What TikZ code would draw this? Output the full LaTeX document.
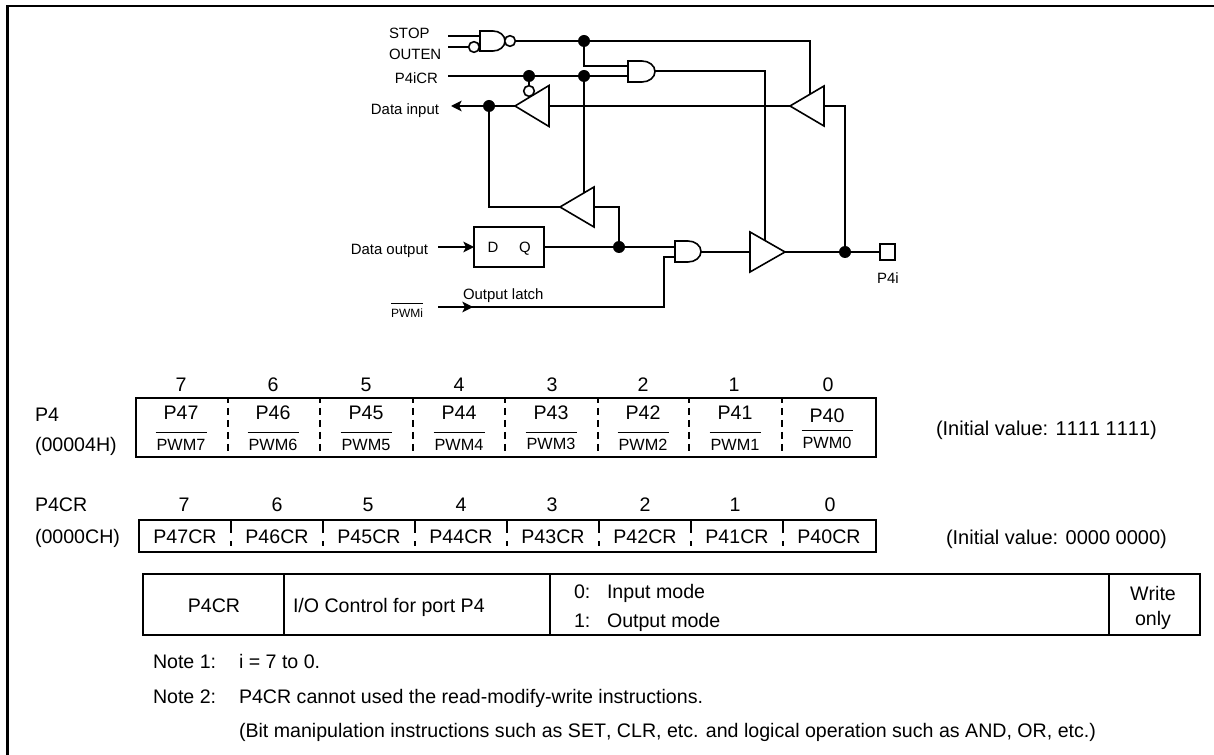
\documentclass[tikz,border=0pt]{standalone}
\usepackage{fontspec}
\setmainfont[Kerning=Off]{Liberation Sans}
\usetikzlibrary{arrows.meta}
\tikzset{
  txt/.style={inner sep=0pt,outer sep=0pt,font=\fontsize{14.7}{17}\selectfont,text height=10.5pt,text depth=0pt},
  txtb/.style={inner sep=0pt,outer sep=0pt,font=\fontsize{15}{17}\selectfont,text height=10.7pt,text depth=0pt},
  small/.style={inner sep=0pt,outer sep=0pt,font=\fontsize{11.2}{13}\selectfont,text height=8pt,text depth=0pt},
  pwm/.style={inner sep=0pt,outer sep=0pt,font=\fontsize{12.2}{14}\selectfont,text height=8.7pt,text depth=0pt},
  pwmi/.style={inner sep=0pt,outer sep=0pt,font=\fontsize{9}{11}\selectfont,text height=6.4pt,text depth=0pt},
  wire/.style={line width=1.2pt,line join=miter},
  heavy/.style={line width=1.5pt},
  gatebody/.style={line width=1.2pt,fill=white},
  dot/.style={circle,fill=black,inner sep=0pt,minimum size=9pt},
  bubble/.style={circle,draw,line width=1.2pt,fill=white,inner sep=0pt,minimum size=8pt},
  tipped/.style={-{Stealth[length=8pt,width=8pt,inset=2pt]}},
  dashA/.style={line width=1.5pt,dash pattern=on 5.25pt off 3.75pt,dash phase=2.25pt},
  dashB/.style={line width=1.5pt,dash pattern=on 10pt off 6pt},
}
% and-gate body: left x, top y, bottom y, flat length, bulge
\newcommand{\gatepath}[5]{%
  \draw[gatebody] (#1,#2) -- ({#1+#4},#2)
    .. controls ({#1+#4+.55*#5},#2) and ({#1+#4+#5},{#2+.22*(#3-#2)}) .. ({#1+#4+#5},{(#2+#3)/2})
    .. controls ({#1+#4+#5},{#3-.22*(#3-#2)}) and ({#1+#4+.55*#5},#3) .. ({#1+#4},#3) -- (#1,#3) -- cycle;}
% triangle: apex x, apex y, base x, half height
\newcommand{\trianglepath}[4]{%
  \draw[gatebody,line join=miter] (#1,#2) -- (#3,{#2-#4}) -- (#3,{#2+#4}) -- cycle;}
\begin{document}
\begin{tikzpicture}[x=0.75pt,y=-0.75pt]
\useasboundingbox (0,0) rectangle (1214,755);
\clip (0,0) rectangle (1214,755);
% frame
\coordinate (fa) at (7.5,755);
\coordinate (fb) at (7.5,6);
\coordinate (fc) at (1214,6);
\draw[heavy,line width=1.6pt] (fa) -- (fb) -- (fc);

% circuit coordinates
\coordinate (stopL) at (448,36);
\coordinate (stopG) at (480,36);
\coordinate (outenL) at (448,47);
\coordinate (outenG) at (469,47);
\coordinate (nandO) at (515,41);
\coordinate (j1) at (584,41);
\coordinate (corner1) at (810,41);
\coordinate (tri4en) at (810,94);
\coordinate (k1) at (584,66);
\coordinate (and2a) at (628,66);
\coordinate (crL) at (448,76);
\coordinate (j2) at (529,76);
\coordinate (j3) at (584,76);
\coordinate (and2b) at (628,76);
\coordinate (and2o) at (655,71);
\coordinate (k2) at (765,71);
\coordinate (tri3en) at (765,240.5);
\coordinate (tri2en) at (584,194.5);
\coordinate (tri1a) at (515,106);
\coordinate (j4) at (489,106);
\coordinate (dinT) at (451,106);
\coordinate (tri1b) at (549,106);
\coordinate (tri4a) at (790,106);
\coordinate (tri4b) at (824,106);
\coordinate (k3) at (845,106);
\coordinate (k4) at (489,207);
\coordinate (tri2a) at (560,207);
\coordinate (tri2b) at (594,207);
\coordinate (k5) at (619,207);
\coordinate (j5) at (619,247);
\coordinate (and3a) at (675,247);
\coordinate (and3b) at (675,257);
\coordinate (k6) at (664,257);
\coordinate (k7) at (664,307);
\coordinate (and3o) at (701,252);
\coordinate (tri3b) at (750,252);
\coordinate (tri3a) at (785,252);
\coordinate (j6) at (845,252);
\coordinate (doL) at (438,247);
\coordinate (pwL) at (438,307);
\coordinate (pwT) at (473,307);

% wires
\draw[wire] (stopL) -- (stopG);
\draw[wire] (outenL) -- (outenG);
\draw[wire] (nandO) -- (corner1) -- (tri4en);
\draw[wire] (j1) -- (k1) -- (and2a);
\draw[wire] (crL) -- (and2b);
\draw[wire] (j3) -- (tri2en);
\draw[wire] (and2o) -- (k2) -- (tri3en);
\draw[wire] (tri1b) -- (tri4a);
\draw[wire] (tri4b) -- (k3) -- (j6);
\draw[wire] (j4) -- (k4) -- (tri2a);
\draw[wire] (tri2b) -- (k5) -- (j5);
\draw[wire] (and3o) -- (tri3b);
\draw[wire] (and3b) -- (k6) -- (k7) -- (pwL);
\draw[wire,tipped] (pwL) -- (pwT);
\draw[wire,tipped] (doL) -- (474,247);
\draw[wire,tipped] (tri1a) -- (dinT);
\draw[wire] (j2) -- (529,86);

% gates
\gatepath{480}{31}{51}{13}{12}
\gatepath{628}{61}{82}{14}{13}
\gatepath{675}{241}{262}{13}{13}
\trianglepath{515}{106}{549}{20.5}
\trianglepath{560}{207}{594}{20}
\trianglepath{790}{106}{824}{20}
\trianglepath{785}{252}{750}{20}
\node[bubble] (b1) at (474,47) {};
\node[bubble] (b2) at (510,41) {};
\node[bubble] (b3) at (529,91) {};

% latch
\node[draw,line width=1.2pt,inner sep=0pt,minimum width=52.5pt,minimum height=30pt,fill=white] (latch) at (509,247) {};
\draw[wire] (latch.east) -- (and3a);
\node[small] (dL) at (493,247) {D};
\node[small] (qL) at (525,247) {Q};

% output pad
\node[draw,line width=1.2pt,inner sep=0pt,minimum size=11.6pt,fill=white] (pad) at (887.5,252) {};
\draw[wire] (tri3a) -- (pad.west);

% dots
\foreach \c/\n in {j1/d1,j2/d2,j3/d3,j4/d4,j5/d5,j6/d6} \node[dot] (\n) at (\c) {};

% circuit labels
\node[small,anchor=west] (lstop) at (389,33) {STOP};
\node[small,anchor=west] (louten) at (389,54) {OUTEN};
\node[small,anchor=east] (lcr) at (438,78) {P4iCR};
\node[small,anchor=east] (ldin) at (439,109) {Data input};
\node[small,anchor=east] (ldout) at (428,249) {Data output};
\node[small,anchor=west] (llatch) at (463,294) {Output latch};
\node[small] (lp4i) at (888,278) {P4i};
\node[pwmi] (lpwmi) at (407,313) {PWMi};
\draw[line width=.6pt] (391,303.5) -- (423,303.5);

% register P4
\node[txt,anchor=west] (rp4) at (35,415) {P4};
\node[txt,anchor=west] (rp4a) at (35,445) {(00004H)};
\node[draw,heavy,inner sep=0pt,minimum width=554.8pt,minimum height=44.25pt] (boxA) at (505.85,427.5) {};
\foreach \x in {228,320,413,505,598,689,782} {
  \coordinate (ta) at (\x,399); \coordinate (tb) at (\x,457);
  \draw[dashA] (ta) -- (tb);
}
\foreach \x/\b in {181/7,273/6,366/5,459/4,552/3,643/2,734/1,828/0}
  \node[txt] (nA\b) at (\x,385) {\b};
\foreach \x/\b/\o/\y/\z/\w in {181/7/7/413/445/432,273/6/6/413/445/432,366/5/5/413/445/432,459/4/4/413/445/432,551/3/3/413/444/432,643/2/2/413/445/432,735/1/1/413/445/432,827/0/0/416/443/430} {
  \node[txt] (pA\b) at (\x,\y) {P4\b};
  \node[pwm] (qA\b) at (\x,\z) {PWM\o};
  \coordinate (oa) at (\x-25.5,\w); \coordinate (ob) at (\x+25.5,\w);
  \draw[line width=.7pt] (oa) -- (ob);
}
\node[txtb,anchor=west] (iniA) at (936,428) {(Initial value: 1111 1111)};

% register P4CR
\node[txt,anchor=west] (rcr) at (35,505) {P4CR};
\node[txt,anchor=west] (rcra) at (35,536) {(0000CH)};
\node[draw,heavy,inner sep=0pt,minimum width=552.5pt,minimum height=24pt] (boxB) at (507.35,536) {};
\foreach \x in {231,323,415,507,599,691,783} {
  \coordinate (ta) at (\x,520); \coordinate (tb) at (\x,546);
  \draw[dashB] (ta) -- (tb);
}
\foreach \x/\b in {184/7,277/6,368/5,461/4,552/3,645/2,735/1,830/0}
  \node[txt] (nB\b) at (\x,505) {\b};
\foreach \x/\b in {185/7,277/6,369/5,461/4,553/3,645/2,737/1,829/0}
  \node[txt] (cB\b) at (\x,536) {P4\b CR};
\node[txtb,anchor=west] (iniB) at (946,537) {(Initial value: 0000 0000)};

% table
\node[draw,heavy,inner sep=0pt,minimum width=792.75pt,minimum height=45.75pt] (tbl) at (671.5,604.5) {};
\foreach \x in {284,550,1109} {
  \coordinate (ta) at (\x,574); \coordinate (tb) at (\x,635);
  \draw[heavy] (ta) -- (tb);
}
\node[txt] (tc1) at (214,605) {P4CR};
\node[txt,anchor=west] (tc2) at (293,605) {I/O Control for port P4};
\node[txt,anchor=west] (tc3) at (574,591) {0:};
\node[txt,anchor=west] (tc4) at (607,591) {Input mode};
\node[txt,anchor=west] (tc5) at (574,620) {1:};
\node[txt,anchor=west] (tc6) at (607,620) {Output mode};
\node[txt] (tc7) at (1153,593) {Write};
\node[txt] (tc8) at (1153,618) {only};

% notes
\node[txt,anchor=west] (n1) at (153,661) {Note 1:};
\node[txt,anchor=west] (n1t) at (239,661) {i = 7 to 0.};
\node[txt,anchor=west] (n2) at (153,696) {Note 2:};
\node[txt,anchor=west] (n2t) at (239,696) {P4CR cannot used the read-modify-write instructions.};
\node[txt,anchor=west] (n3t) at (239,730) {(Bit manipulation instructions such as SET, CLR, etc. and logical operation such as AND, OR, etc.)};
\end{tikzpicture}
\end{document}
